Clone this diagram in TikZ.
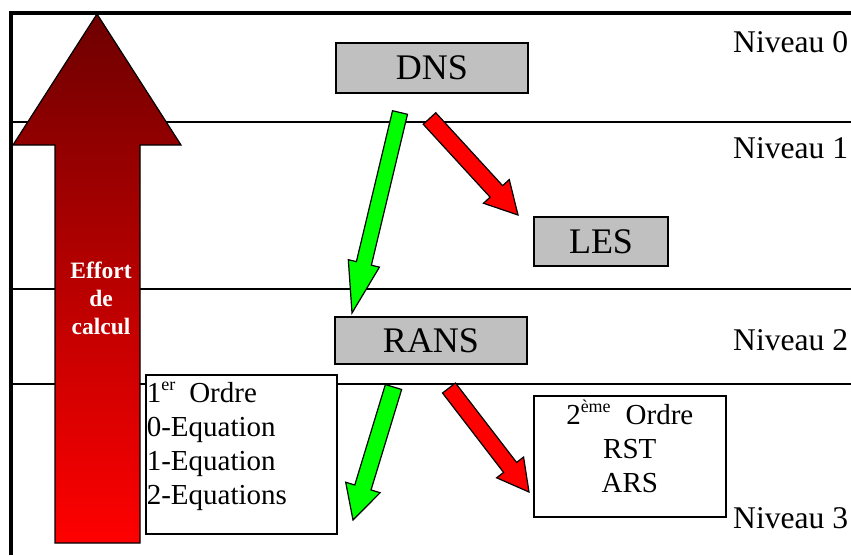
\documentclass[tikz,border=0pt]{standalone}
\usepackage{fontspec}
\setmainfont{Liberation Serif}
\usepackage{tikz}
\usetikzlibrary{calc}
\definecolor{rougefonce}{RGB}{110,0,0}
\definecolor{gris}{RGB}{192,192,192}
\tikzset{niveau/.style={anchor=base west,inner sep=0,font=\fontsize{31.6}{36}\selectfont},
  boite/.style={draw,line width=1.6pt,fill=gris,inner sep=0,font=\fontsize{36}{40}\selectfont},
  liste/.style={draw,line width=1.6pt,fill=white,font=\fontsize{29}{34}\selectfont,inner xsep=1pt,inner ysep=3pt},
  separ/.style={line width=1.6pt},
  cadre/.style={line width=3.5pt}
}
% exposant
\newcommand{\expo}[1]{\raisebox{12pt}{\fontsize{18}{18}\selectfont #1}}
% fleche pleine : depart, arrivee, couleur, demi-largeur, demi-largeur de tete, longueur de tete
\newcommand{\fleche}[6]{%
  \coordinate (base) at ($(#2)!#6!(#1)$);
  \draw[line width=1.2pt,fill=#3] ($(#1)!#4!90:(#2)$) -- ($(base)!#4!90:(#2)$) -- ($(base)!#5!90:(#2)$) -- (#2)
    -- ($(base)!#5!-90:(#2)$) -- ($(base)!#4!-90:(#2)$) -- ($(#1)!#4!-90:(#2)$) -- cycle;
}

\begin{document}
\begin{tikzpicture}[x=1pt,y=-1pt]
    \useasboundingbox (0,0) rectangle (851,555);

    \draw[cadre] (11,555) -- (11,13) -- (851,13);
    \foreach \y in {122,289,384}
        \draw[separ] (11,\y) -- (851,\y);

    % effort de calcul
    \draw[line width=1.2pt,top color=rougefonce,bottom color=red] (97,14) -- (181,145) -- (140,145) -- (140,543)
        -- (55,543) -- (55,145) -- (13,145) -- cycle;
    \node[font=\bfseries\fontsize{23.5}{28}\selectfont,text=white,align=center] (effort) at (101,298) {Effort\\de\\calcul};

    \node[boite,minimum width=192pt,minimum height=50pt] (dns) at (432,68) {DNS};
    \node[boite,minimum width=134pt,minimum height=49pt] (les) at (601,241.5) {LES};
    \node[boite,minimum width=192pt,minimum height=47pt] (rans) at (431,340.5) {RANS};

    \node[liste,anchor=north west,text width=189pt,align=left,text height=25pt,text depth=128pt] (premier) at (145,374)
        {1\expo{er}\hspace{14pt}Ordre\\0-Equation\\1-Equation\\2-Equations};
    \node[liste,anchor=north west,text width=186pt,inner xsep=3pt,align=center,text height=26pt,text depth=89pt] (second) at (533,395)
        {2\expo{ème}\hspace{15pt}Ordre\\RST\\ARS};

    \node[niveau] (n0) at (733,52) {Niveau 0};
    \node[niveau] (n1) at (733,158) {Niveau 1};
    \node[niveau] (n2) at (733,350) {Niveau 2};
    \node[niveau] (n3) at (733,528) {Niveau 3};

    \coordinate (v1a) at (400,112.5);
    \coordinate (v1b) at (352,313);
    \coordinate (r1a) at (429.5,118.5);
    \coordinate (r1b) at (518,215);
    \coordinate (v2a) at (393.5,387);
    \coordinate (v2b) at (353,520);
    \coordinate (r2a) at (449,388);
    \coordinate (r2b) at (529,492);

    \fleche{v1a}{v1b}{green}{7.7pt}{16pt}{51pt}
    \fleche{r1a}{r1b}{red}{8.5pt}{17.5pt}{32pt}
    \fleche{v2a}{v2b}{green}{8.5pt}{18pt}{34pt}
    \fleche{r2a}{r2b}{red}{8.2pt}{17pt}{31pt}

\end{tikzpicture}
\end{document}
